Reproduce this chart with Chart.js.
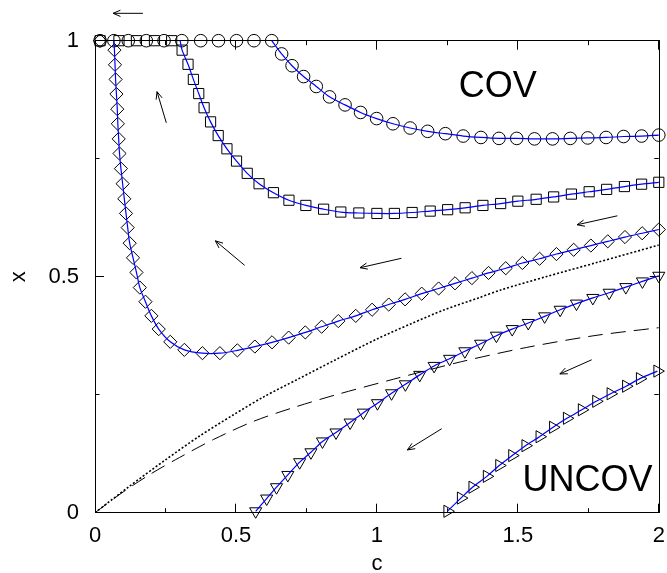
<!DOCTYPE html>
<html><head><meta charset="utf-8">
<script src="https://cdn.jsdelivr.net/npm/chart.js@4.4.0/dist/chart.umd.min.js"></script>
<style>html,body{margin:0;padding:0;background:#fff;} canvas{display:block;}</style>
</head><body>
<canvas id="chart" width="667" height="573"></canvas>
<script>
// ---- axis ticks and titles ----
const xTickValues = [0, 0.25, 0.5, 0.75, 1, 1.25, 1.5, 1.75, 2];
const xTickLabels = ['0', '', '0.5', '', '1', '', '1.5', '', '2'];
const yTickValues = [0, 0.25, 0.5, 0.75, 1];
const yTickLabels = ['0', '', '0.5', '', '1'];
const xAxisTitle = 'c';
const yAxisTitle = 'x';

// ---- trajectories (c, x) ----
const circles = [[0.018,1],[0.067,1],[0.118,1],[0.182,1],[0.245,1],[0.308,1],[0.375,1],[0.438,1],[0.502,1],[0.564,1],[0.627,1],
  [0.662,0.972],[0.699,0.947],[0.740,0.924],[0.785,0.903],[0.832,0.881],[0.887,0.864],[0.942,0.848],[0.999,0.835],[1.057,0.824],
  [1.118,0.815],[1.180,0.808],[1.243,0.803],[1.306,0.798],[1.369,0.795],[1.433,0.793],[1.496,0.793],[1.559,0.792],[1.623,0.792],
  [1.686,0.793],[1.748,0.794],[1.813,0.795],[1.875,0.797],[1.939,0.798],[2.0,0.800]];
const squares = [[0.018,1],[0.085,1],[0.147,1],[0.211,1],[0.272,1],[0.309,0.980],[0.330,0.950],[0.349,0.918],[0.368,0.888],
  [0.387,0.858],[0.410,0.828],[0.437,0.799],[0.468,0.771],[0.502,0.745],[0.540,0.719],[0.582,0.697],[0.633,0.678],[0.688,0.662],
  [0.748,0.651],[0.811,0.643],[0.872,0.637],[0.936,0.635],[1.0,0.634],[1.062,0.634],[1.125,0.636],[1.189,0.639],[1.251,0.642],
  [1.313,0.646],[1.376,0.651],[1.439,0.655],[1.500,0.660],[1.565,0.664],[1.627,0.669],[1.690,0.675],[1.753,0.680],[1.815,0.685],
  [1.878,0.691],[1.939,0.696],[2.0,0.700]];
const diamonds = [[0.018,1],[0.069,0.980],[0.071,0.949],[0.073,0.918],[0.076,0.887],[0.079,0.855],[0.081,0.824],[0.084,0.792],
  [0.087,0.761],[0.092,0.729],[0.098,0.697],[0.104,0.665],[0.110,0.634],[0.116,0.604],[0.123,0.571],[0.135,0.540],[0.147,0.509],
  [0.159,0.477],[0.179,0.447],[0.200,0.417],[0.226,0.389],[0.267,0.362],[0.317,0.345],[0.381,0.338],[0.443,0.338],[0.505,0.344],
  [0.567,0.352],[0.628,0.361],[0.687,0.371],[0.746,0.382],[0.804,0.394],[0.863,0.406],[0.925,0.417],[0.983,0.430],[1.042,0.441],
  [1.100,0.452],[1.159,0.464],[1.219,0.475],[1.277,0.486],[1.337,0.497],[1.396,0.508],[1.457,0.518],[1.516,0.529],[1.577,0.538],
  [1.637,0.548],[1.698,0.557],[1.759,0.566],[1.819,0.575],[1.880,0.584],[1.941,0.592],[2.0,0.600]];
const trianglesDown = [[0.570,0.003],[0.609,0.030],[0.644,0.054],[0.684,0.080],[0.726,0.107],[0.766,0.128],[0.807,0.151],
  [0.855,0.170],[0.905,0.191],[0.952,0.212],[1.002,0.232],[1.052,0.253],[1.101,0.272],[1.152,0.292],[1.203,0.311],[1.258,0.326],
  [1.312,0.342],[1.368,0.358],[1.424,0.375],[1.480,0.389],[1.537,0.402],[1.595,0.416],[1.650,0.430],[1.708,0.443],[1.766,0.455],
  [1.824,0.466],[1.883,0.478],[1.942,0.490],[2.0,0.502]];
const trianglesRight = [[1.250,0.003],[1.298,0.031],[1.339,0.054],[1.390,0.077],[1.434,0.100],[1.480,0.121],[1.527,0.142],
  [1.577,0.161],[1.625,0.181],[1.674,0.200],[1.727,0.218],[1.778,0.236],[1.829,0.252],[1.884,0.268],[1.933,0.284],[1.995,0.300]];
// c where the fitted (blue) curve leaves x = 1 : circles, squares, diamonds
const leaveTopC = [0.627, 0.302, 0.067];

// ---- boundary curves ----
const dottedCurve = [[0,0],[0.12,0.055],[0.25,0.112],[0.37,0.162],[0.49,0.207],[0.6,0.246],[0.72,0.283],[0.85,0.323],[1.0,0.368],
  [1.12,0.400],[1.24,0.430],[1.36,0.455],[1.44,0.472],[1.6,0.500],[1.78,0.530],[2.0,0.567]];
const dashedCurve = [[0,0],[0.1,0.044],[0.2,0.083],[0.3,0.117],[0.42,0.155],[0.56,0.193],[0.7,0.222],[0.85,0.249],[1.06,0.283],
  [1.3,0.320],[1.53,0.350],[1.77,0.375],[2.0,0.392]];

// ---- flow arrows: tail (c, x) -> head (c, x) ----
const arrowTails = [[0.170,1.058],[0.253,0.826],[0.531,0.524],[1.087,0.539],[1.853,0.629],[1.762,0.324],[1.230,0.178]];
const arrowHeads = [[0.064,1.058],[0.220,0.892],[0.427,0.576],[0.940,0.519],[1.710,0.610],[1.649,0.294],[1.108,0.133]];

// ---- region labels ----
const regionLabels = ['COV', 'UNCOV'];
const regionLabelPos = [[1.429, 0.902], [1.747, 0.067]];

const FONT = "'Liberation Sans', Arial, Helvetica, sans-serif";
const pts = arr => arr.map(p => ({x: p[0], y: p[1]}));
const fitLine = (arr, leave) => (leave === undefined ? pts(arr) : [{x: leave, y: 1}].concat(pts(arr.filter(p => p[1] < 1))));

function markerSet(arr, style, radius, rotation) {
  return { data: pts(arr), showLine: false, pointStyle: style, pointRadius: radius, pointRotation: rotation || 0,
    pointBorderColor: '#000', pointBackgroundColor: 'rgba(0,0,0,0)', pointBorderWidth: 1, clip: false, order: 1 };
}
function blueSet(data) {
  return { data, showLine: true, borderColor: '#0000ff', borderWidth: 1.2, pointRadius: 0, tension: 0.3, fill: false, clip: false, order: 0 };
}

const datasets = [
  blueSet(fitLine(circles, leaveTopC[0])),
  blueSet(fitLine(squares, leaveTopC[1])),
  blueSet(fitLine(diamonds, leaveTopC[2])),
  blueSet(fitLine(trianglesDown)),
  blueSet(fitLine(trianglesRight)),
  markerSet(circles, 'circle', 6.3),
  markerSet(squares, 'rect', 7.2),
  markerSet(diamonds, 'rectRot', 6.6),
  markerSet(trianglesDown, 'triangle', 7, 180),
  markerSet(trianglesRight, 'triangle', 7, 90),
  { data: pts(dottedCurve), showLine: true, borderColor: '#000', borderWidth: 1.6, borderDash: [2, 2], pointRadius: 0, tension: 0.3, order: 2 },
  { data: pts(dashedCurve), showLine: true, borderColor: '#000', borderWidth: 1, borderDash: [15, 8], pointRadius: 0, tension: 0.3, order: 2 }
];

const framePlugin = {
  id: 'frame',
  beforeDatasetsDraw(chart) {
    const {ctx, chartArea: a, scales} = chart;
    const sx = scales.x, sy = scales.y;
    const al = v => Math.floor(v) + 0.5;
    ctx.save();
    ctx.strokeStyle = '#000';
    ctx.lineWidth = 1;
    ctx.strokeRect(al(a.left), al(a.top), Math.round(a.right - a.left), Math.round(a.bottom - a.top));
    ctx.beginPath();
    xTickValues.forEach((v, i) => {
      const len = xTickLabels[i] ? 9 : 4.5;
      const px = al(sx.getPixelForValue(v));
      ctx.moveTo(px, a.bottom); ctx.lineTo(px, a.bottom - len);
      ctx.moveTo(px, a.top); ctx.lineTo(px, a.top + len);
    });
    yTickValues.forEach((v, i) => {
      const len = yTickLabels[i] ? 9 : 4.5;
      const py = al(sy.getPixelForValue(v));
      ctx.moveTo(a.left, py); ctx.lineTo(a.left + len, py);
      ctx.moveTo(a.right, py); ctx.lineTo(a.right - len, py);
    });
    ctx.stroke();
    ctx.restore();
  },
  afterDatasetsDraw(chart) {
    const {ctx, scales} = chart;
    const sx = scales.x, sy = scales.y;
    ctx.save();
    ctx.strokeStyle = '#000';
    ctx.lineWidth = 1;
    arrowTails.forEach((t, i) => {
      const h = arrowHeads[i];
      const x0 = sx.getPixelForValue(t[0]), y0 = sy.getPixelForValue(t[1]);
      const x1 = sx.getPixelForValue(h[0]), y1 = sy.getPixelForValue(h[1]);
      const ang = Math.atan2(y1 - y0, x1 - x0);
      const L = 8, spread = 0.4;
      ctx.beginPath();
      ctx.moveTo(x0, y0); ctx.lineTo(x1, y1);
      ctx.moveTo(x1 - L * Math.cos(ang - spread), y1 - L * Math.sin(ang - spread));
      ctx.lineTo(x1, y1);
      ctx.lineTo(x1 - L * Math.cos(ang + spread), y1 - L * Math.sin(ang + spread));
      ctx.stroke();
    });
    ctx.fillStyle = '#000';
    ctx.font = '36px ' + FONT;
    ctx.textAlign = 'center';
    ctx.textBaseline = 'middle';
    regionLabels.forEach((txt, i) => {
      ctx.fillText(txt, sx.getPixelForValue(regionLabelPos[i][0]), sy.getPixelForValue(regionLabelPos[i][1]));
    });
    ctx.restore();
  }
};

new Chart(document.getElementById('chart'), {
  type: 'scatter',
  data: { datasets },
  options: {
    responsive: false,
    animation: false,
    events: [],
    layout: { padding: { top: 40.7, right: 4.3, left: 0, bottom: 0 } },
    plugins: { legend: { display: false }, tooltip: { enabled: false } },
    scales: {
      x: {
        type: 'linear', min: 0, max: 2,
        afterBuildTicks: s => { s.ticks = xTickValues.map(v => ({ value: v })); },
        afterFit: s => { s.height = 60.3; s.paddingLeft = 0; s.paddingRight = 0; },
        ticks: { autoSkip: false, maxRotation: 0, minRotation: 0, padding: 12, color: '#000',
          font: { size: 22, family: FONT, lineHeight: 1 },
          callback: v => xTickLabels[xTickValues.indexOf(v)] },
        grid: { display: false, drawTicks: false, tickLength: 0 },
        border: { display: false },
        title: { display: true, text: xAxisTitle, color: '#000', font: { size: 22, family: FONT, lineHeight: 0.8 }, padding: { top: 0, bottom: 0 } }
      },
      y: {
        type: 'linear', min: 0, max: 1,
        afterBuildTicks: s => { s.ticks = yTickValues.map(v => ({ value: v })); },
        afterFit: s => { s.width = 95; s.paddingTop = 0; s.paddingBottom = 0; },
        ticks: { autoSkip: false, padding: 16, color: '#000',
          font: { size: 22, family: FONT, lineHeight: 1 },
          callback: v => yTickLabels[yTickValues.indexOf(v)] },
        grid: { display: false, drawTicks: false, tickLength: 0 },
        border: { display: false },
        title: { display: true, text: yAxisTitle, color: '#000', font: { size: 22, family: FONT, lineHeight: 0.8 }, padding: { top: 10.2, bottom: 0 } }
      }
    }
  },
  plugins: [framePlugin]
});
</script>
</body></html>
